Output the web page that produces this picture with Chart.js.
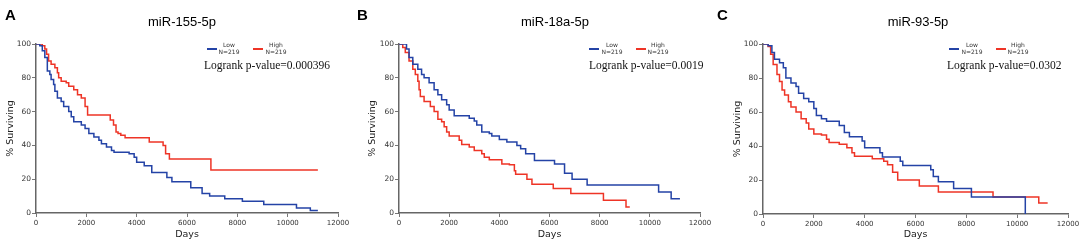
<!DOCTYPE html>
<html>
<head>
<meta charset="utf-8">
<script src="https://cdn.jsdelivr.net/npm/chart.js@4.4.1/dist/chart.umd.min.js"></script>
<style>
body { margin: 0; background: #fff; }
#wrap { position: relative; width: 1084px; height: 244px; overflow: hidden; }
canvas { position: absolute; top: 0; }
.tag { position: absolute; top: 7px; font: bold 15px "Liberation Sans", Arial, sans-serif; line-height: 15px; color: #000; }
</style>
</head>
<body>
<div id="wrap">
  <canvas id="chartA" style="left:0px" width="360" height="244"></canvas>
  <canvas id="chartB" style="left:360px" width="360" height="244"></canvas>
  <canvas id="chartC" style="left:720px" width="364" height="244"></canvas>
  <div class="tag" style="left:5px">A</div>
  <div class="tag" style="left:357px">B</div>
  <div class="tag" style="left:717px">C</div>
</div>
<script>
// labels
var titles = ['miR-155-5p', 'miR-18a-5p', 'miR-93-5p'];
var groups = ['Low', 'High'];
var groupN = ['N=219', 'N=219'];
var pValues = ['0.000396', '0.0019', '0.0302'];
var xTicks = [0, 2000, 4000, 6000, 8000, 10000, 12000];
var yTicks = [0, 20, 40, 60, 80, 100];

// survival curves (days / % surviving after the step)
var daysA_low  = [0, 150, 250, 350, 450, 550, 600, 700, 750, 850, 1000, 1100, 1300, 1400, 1500, 1800, 1950, 2100, 2300, 2500, 2600, 2800, 3000, 3100, 3700, 3900, 4000, 4300, 4600, 5200, 5400, 6150, 6600, 6900, 7500, 8200, 9050, 10350, 10900, 11200];
var survA_low  = [100, 99, 96, 92, 84, 82, 79, 76, 72, 68, 66, 63, 60, 57, 54, 52, 50, 47, 45, 43, 41, 39, 37, 36, 35, 33, 30, 28, 24, 21, 18.5, 15, 11.5, 10, 8.5, 7, 5, 3, 1.5, 1.5];
var daysA_high = [0, 250, 350, 420, 500, 600, 750, 850, 900, 1000, 1200, 1300, 1500, 1650, 1800, 1950, 2050, 2950, 3080, 3180, 3260, 3370, 3540, 4500, 5050, 5150, 5300, 6950, 11200];
var survA_high = [100, 99, 97, 94, 90, 88, 86, 83, 80, 78, 77, 75, 73, 70, 68, 63, 58, 55, 52, 48, 47, 46, 44.5, 42, 40, 35, 32, 25.5, 25.5];

var daysB_low  = [0, 250, 300, 400, 550, 750, 900, 1000, 1200, 1400, 1550, 1700, 1900, 2000, 2200, 2800, 3000, 3100, 3300, 3600, 3700, 4000, 4300, 4700, 4850, 5050, 5400, 6200, 6600, 6900, 7500, 10350, 10850, 11200];
var survB_low  = [100, 100, 97, 92, 88, 85, 82, 80, 77, 73, 70, 67, 64, 61, 57.5, 56, 54.5, 52, 48, 47, 45.5, 43.5, 42, 40, 38, 35, 31, 29, 23.5, 20, 16.5, 12.5, 8.5, 8.5];
var daysB_high = [0, 150, 250, 400, 550, 650, 750, 800, 850, 1000, 1250, 1400, 1550, 1700, 1800, 1900, 2000, 2400, 2500, 2800, 3000, 3300, 3400, 3600, 4100, 4400, 4600, 4650, 5100, 5300, 6150, 6850, 8150, 9050, 9200];
var survB_high = [100, 98, 95, 90, 85, 82, 78, 73, 69, 66, 63, 60, 55.5, 54, 51, 48, 45.5, 43, 40.5, 39, 37, 35, 33, 31.5, 29, 28.5, 25, 23, 20, 17, 14.5, 11.5, 7.5, 3.5, 3.5];

var daysC_low  = [0, 200, 350, 450, 650, 800, 900, 1100, 1300, 1400, 1600, 1800, 2000, 2100, 2300, 2500, 3000, 3200, 3400, 3900, 4000, 4600, 4700, 5400, 5500, 6600, 6700, 6900, 7500, 8200, 10320];
var survC_low  = [100, 99, 95, 91, 89, 86, 80, 77, 75, 71, 68, 66, 62, 58, 56, 54.5, 52, 48, 45.5, 43, 39, 36, 33.5, 31, 28.5, 26, 22, 19, 15, 10, 0];
var daysC_high = [0, 200, 300, 400, 550, 650, 750, 850, 1000, 1100, 1300, 1500, 1700, 1800, 2000, 2300, 2500, 2600, 3000, 3300, 3500, 3600, 4300, 4750, 4900, 5100, 5300, 6150, 6900, 9050, 10850, 11200];
var survC_high = [100, 98.5, 94, 88, 82, 78, 73, 70, 66, 63, 60, 56, 53.5, 50, 47, 46.5, 44, 42, 41, 39, 36, 34, 32.5, 31, 29, 24.5, 20, 16.5, 13, 10, 6.5, 6.5];

var lowColor = '#2443a6';
var highColor = '#ee3426';

function toPoints(days, surv) {
  return days.map(function (d, i) { return { x: d, y: surv[i] }; });
}

// title, legend and p-value drawn on top of each panel
var panelText = {
  id: 'panelText',
  afterDraw: function (chart, args, o) {
    var ctx = chart.ctx;
    ctx.save();
    ctx.fillStyle = '#000';
    ctx.textAlign = 'center';
    ctx.textBaseline = 'middle';
    ctx.font = '13px "Liberation Sans", Arial, sans-serif';
    ctx.fillText(o.title, o.titleX, 22);

    var cols = [lowColor, highColor];
    for (var i = 0; i < groups.length; i++) {
      ctx.strokeStyle = cols[i];
      ctx.lineWidth = 2;
      ctx.beginPath();
      ctx.moveTo(o.legX[i], 49);
      ctx.lineTo(o.legX[i] + 10, 49);
      ctx.stroke();
      ctx.fillStyle = '#333';
      ctx.font = '6px "DejaVu Sans", sans-serif';
      ctx.fillText(groups[i], o.legTextX[i], 45.5);
      ctx.fillText(groupN[i], o.legTextX[i], 52);
    }

    ctx.fillStyle = '#111';
    ctx.textAlign = 'left';
    ctx.font = '11.5px "Liberation Serif", "Times New Roman", serif';
    ctx.fillText('Logrank p-value=' + o.p, o.pX, 66);
    ctx.restore();
  }
};

function plain(v) { return String(v); }

function makeChart(id, k, low, high, plotLeft, plotRight, axisH, yTitlePad, textOpts) {
  var canvas = document.getElementById(id);
  textOpts.title = titles[k];
  textOpts.p = pValues[k];
  return new Chart(canvas.getContext('2d'), {
    type: 'line',
    data: {
      datasets: [
        { label: groups[0], data: low, borderColor: lowColor, borderWidth: 1.5, pointRadius: 0, stepped: 'before', fill: false },
        { label: groups[1], data: high, borderColor: highColor, borderWidth: 1.5, pointRadius: 0, stepped: 'before', fill: false }
      ]
    },
    options: {
      responsive: false,
      animation: false,
      devicePixelRatio: 1,
      layout: { padding: { top: 44, right: canvas.width - plotRight, bottom: 0, left: 0 } },
      plugins: {
        legend: { display: false },
        tooltip: { enabled: false },
        panelText: textOpts
      },
      scales: {
        x: {
          type: 'linear',
          min: 0, max: 12000,
          afterBuildTicks: function (s) { s.ticks = xTicks.map(function (v) { return { value: v }; }); },
          afterFit: function (s) { s.height = axisH; },
          ticks: { color: '#333', font: { size: 7, family: '"DejaVu Sans", sans-serif' }, padding: 2, maxRotation: 0, autoSkip: false, callback: plain },
          grid: { drawOnChartArea: false, drawTicks: true, tickLength: 4, color: '#777' },
          border: { color: '#666', width: 1.5 },
          title: { display: true, text: 'Days', color: '#222', font: { size: 9.5, family: '"DejaVu Sans", sans-serif' }, padding: { top: 0, bottom: 4 } }
        },
        y: {
          min: 0, max: 100,
          afterBuildTicks: function (s) { s.ticks = yTicks.map(function (v) { return { value: v }; }); },
          afterFit: function (s) { s.width = plotLeft; },
          ticks: { color: '#333', font: { size: 7.5, family: '"DejaVu Sans", sans-serif' }, padding: 1, callback: plain },
          grid: { drawOnChartArea: false, drawTicks: true, tickLength: 4, color: '#777' },
          border: { color: '#666', width: 1.5 },
          title: { display: true, text: '% Surviving', color: '#222', font: { size: 9.5, family: '"DejaVu Sans", sans-serif' }, padding: { top: yTitlePad, bottom: 0 } }
        }
      }
    },
    plugins: [panelText]
  });
}

makeChart('chartA', 0, toPoints(daysA_low, survA_low), toPoints(daysA_high, survA_high), 36, 338, 31, 5,
  { titleX: 182, legX: [207, 253], legTextX: [229, 276], pX: 204 });
makeChart('chartB', 1, toPoints(daysB_low, survB_low), toPoints(daysB_high, survB_high), 39, 340, 31, 7,
  { titleX: 195, legX: [229, 276], legTextX: [252, 298], pX: 229 });
makeChart('chartC', 2, toPoints(daysC_low, survC_low), toPoints(daysC_high, survC_high), 43, 348, 30, 12,
  { titleX: 198, legX: [229, 276], legTextX: [252, 298], pX: 227 });
</script>
</body>
</html>
